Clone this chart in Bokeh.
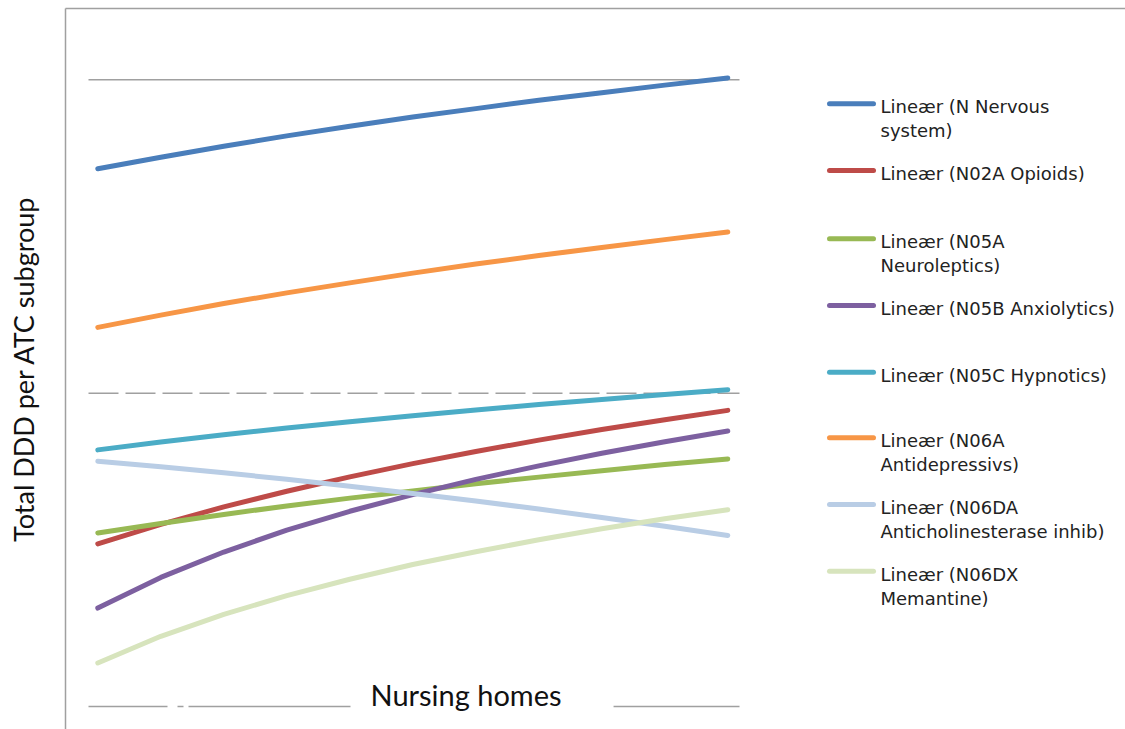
from bokeh.core.properties import value
from bokeh.embed import file_html
from bokeh.models import FixedTicker, Label, Range1d
from bokeh.plotting import figure
from bokeh.resources import INLINE

# Position along the nursing-home axis
homes = [1, 2, 3, 4, 5, 6, 7, 8, 9, 10, 11]

# Fitted trend (total DDD) for each ATC subgroup
n_nervous = [171.6, 175.3, 178.8, 182.1, 185.2, 188.1, 190.8, 193.5, 195.9, 198.3, 200.6]
n02a_opioids = [51.9, 58.1, 63.7, 68.7, 73.3, 77.5, 81.4, 85.0, 88.4, 91.5, 94.5]
n05a_neuroleptics = [55.4, 58.4, 61.3, 64.0, 66.5, 68.8, 71.1, 73.2, 75.2, 77.2, 79.0]
n05b_anxiolytics = [31.4, 41.2, 49.3, 56.3, 62.3, 67.6, 72.5, 76.8, 80.8, 84.5, 87.9]
n05c_hypnotics = [81.9, 84.4, 86.7, 88.9, 90.9, 92.8, 94.6, 96.4, 98.0, 99.6, 101.1]
n06a_antidepressivs = [121.0, 124.9, 128.6, 132.0, 135.2, 138.3, 141.2, 143.9, 146.5, 149.0, 151.4]
n06da_anticholinesterase = [78.3, 76.5, 74.6, 72.5, 70.3, 68.0, 65.6, 63.0, 60.3, 57.5, 54.6]
n06dx_memantine = [13.9, 22.4, 29.4, 35.4, 40.6, 45.3, 49.4, 53.2, 56.7, 59.9, 62.8]

legend_labels = [
    ["Lineær (N Nervous", "system)"],
    ["Lineær (N02A Opioids)"],
    ["Lineær (N05A", "Neuroleptics)"],
    ["Lineær (N05B Anxiolytics)"],
    ["Lineær (N05C Hypnotics)"],
    ["Lineær (N06A", "Antidepressivs)"],
    ["Lineær (N06DA", "Anticholinesterase inhib)"],
    ["Lineær (N06DX", "Memantine)"],
]

grid_values = [0, 100, 200]

series = [
    n_nervous, n02a_opioids, n05a_neuroleptics, n05b_anxiolytics,
    n05c_hypnotics, n06a_antidepressivs, n06da_anticholinesterase, n06dx_memantine,
]
colors = ["#4A7EBB", "#BE4B48", "#98B954", "#7D60A0",
          "#4BACC6", "#F79646", "#B9CDE5", "#D7E4BD"]

W, H = 1125, 729
FL, FR, FT, FB = 65, 1125, 8, 729          # frame edges in canvas pixels
X0 = 1 + (FL - 97.3) / 63.0
X1 = 1 + (FR - 97.3) / 63.0
Y0 = (706 - FB) / 3.1335
Y1 = (706 - FT) / 3.1335


def sx(px):
    return X0 + (px - FL) * (X1 - X0) / (FR - FL)


def sy(py):
    return Y1 - (py - FT) * (Y1 - Y0) / (FB - FT)


p = figure(
    width=W, height=H,
    x_range=Range1d(X0, X1), y_range=Range1d(Y0, Y1),
    output_backend="svg", toolbar_location=None,
    x_axis_location="above",
    min_border_left=FL, min_border_right=0,
    min_border_top=FT, min_border_bottom=0,
    background_fill_color="white", border_fill_color="white",
    outline_line_color=None,
)
p.grid.visible = False
for ax in (p.xaxis[0], p.yaxis[0]):
    ax.ticker = FixedTicker(ticks=[])
    ax.major_tick_line_color = None
    ax.minor_tick_line_color = None
    ax.major_label_text_font_size = "0px"
    ax.axis_line_color = "#A0A0A0"
    ax.axis_line_width = 1.5

yax = p.yaxis[0]
yax.axis_label = "Total DDD per ATC subgroup"
yax.axis_label_text_font = "Lato"
yax.axis_label_text_font_size = "27px"
yax.axis_label_text_font_style = "normal"
yax.axis_label_text_color = "#111111"
yax.axis_label_standoff = 26

# horizontal gridlines (limited to the plotting band)
gx0, gx1 = sx(88), sx(739)
grid_dash = ["79 10 6 5 2000", "30 7", "solid"]
for gv, dash in zip(grid_values, grid_dash):
    p.segment(x0=[gx0], y0=[gv], x1=[gx1], y1=[gv],
              line_color="#A0A0A0", line_width=1.5, line_dash=dash)

# trend lines
for ys, c in zip(series, colors):
    p.line(homes, ys, line_color=c, line_width=5, line_cap="round", line_join="round")

# legend
row_y = [103.3, 170, 238.3, 305, 371.7, 437.3, 504, 570.7]
for ry, c, lab in zip(row_y, colors, legend_labels):
    p.segment(x0=[sx(829)], y0=[sy(ry)], x1=[sx(873)], y1=[sy(ry)],
              line_color=c, line_width=5, line_cap="round")
    for k, t in enumerate(lab):
        p.text(x=[sx(880)], y=[sy(ry + 3 + 24 * k)], text=[t],
               text_font=value("DejaVu Sans"), text_font_size="18px",
               text_color="#222222", text_baseline="alphabetic", text_align="left")

p.add_layout(Label(
    x=sx(350), y=sy(695), text="Nursing homes",
    text_align="left", text_baseline="alphabetic",
    text_font="Lato", text_font_size="29px", text_color="#111111",
    background_fill_color="white",
    padding=dict(left=20, right=52, top=2, bottom=4),
))

open("out.html", "w").write(file_html(p, INLINE))
